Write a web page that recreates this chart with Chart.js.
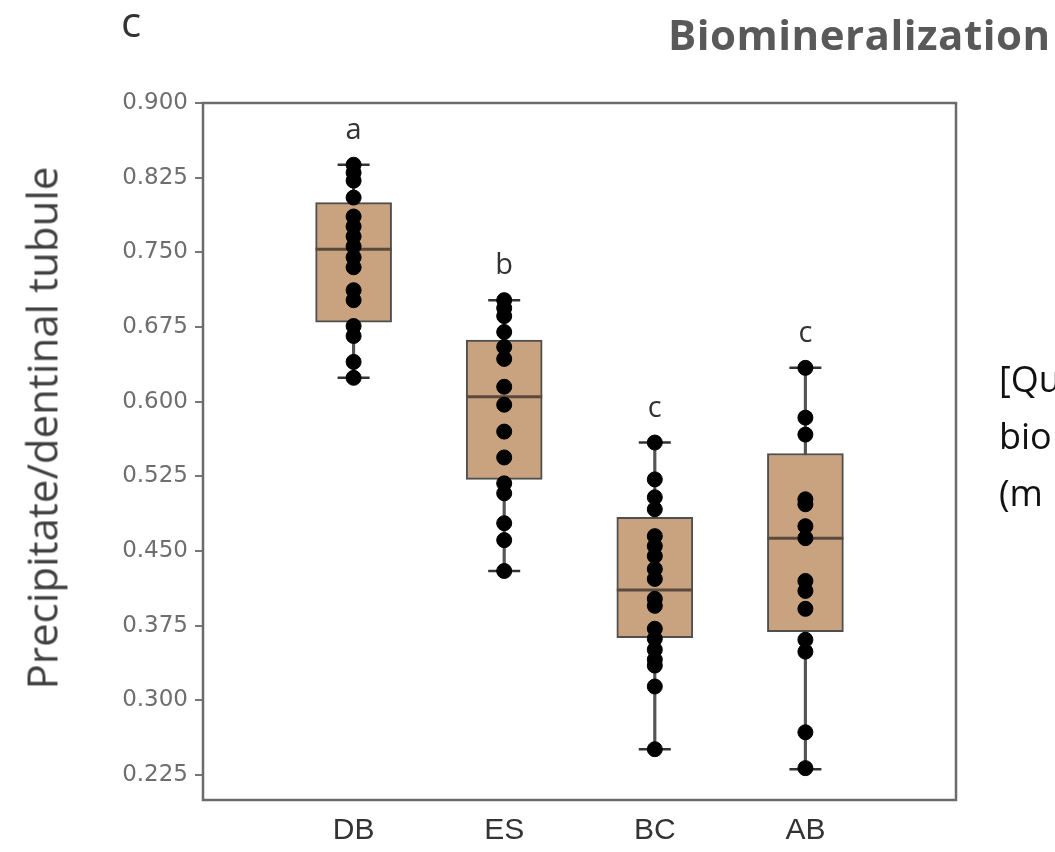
<!DOCTYPE html>
<html>
<head>
<meta charset="utf-8">
<script src="https://cdn.jsdelivr.net/npm/chart.js@4"></script>
<style>
  body { margin: 0; background: #fff; overflow: hidden; }
  #wrap { position: relative; width: 1055px; height: 852px; overflow: hidden; }
  #chart { position: absolute; left: 0; top: 0; }
  .txt { position: absolute; white-space: nowrap; font-family: "Open Sans", sans-serif; }
  #panel { left: 121px; top: -8px; font-size: 42px; color: #333; }
  #head { left: 668px; top: 5px; font-size: 42px; font-weight: bold; letter-spacing: 0.5px; color: #595959; }
  #side { left: 999px; top: 350px; font-size: 36px; line-height: 57px; color: #111; }
  #ytitle { left: 41px; top: 428px; font-size: 42px; color: #404040;
            transform: translate(-50%, -50%) rotate(-90deg); }
</style>
</head>
<body>
<div id="wrap">
  <canvas id="chart" width="1055" height="852"></canvas>
  <div class="txt" id="panel">c</div>
  <div class="txt" id="head">Biomineralization</div>
  <div class="txt" id="side">[Qu<br>bio<br>(m</div>
  <div class="txt" id="ytitle">Precipitate/dentinal tubule</div>
</div>
<script>
// groups and summary values
const categories = ['DB', 'ES', 'BC', 'AB'];
const letters = ['a', 'b', 'c', 'c'];
const q1 = [0.680, 0.522, 0.363, 0.369];
const median = [0.753, 0.605, 0.411, 0.463];
const q3 = [0.800, 0.662, 0.484, 0.548];
const whiskerLow = [0.624, 0.430, 0.251, 0.231];
const whiskerHigh = [0.838, 0.702, 0.559, 0.634];
const yTicks = [0.225, 0.300, 0.375, 0.450, 0.525, 0.600, 0.675, 0.750, 0.825, 0.900];

// individual observations
const dbPoints = [0.838, 0.830, 0.822, 0.805, 0.786, 0.776, 0.766, 0.756, 0.745, 0.735, 0.712, 0.702, 0.676, 0.666, 0.640, 0.624];
const esPoints = [0.702, 0.694, 0.686, 0.670, 0.655, 0.643, 0.615, 0.597, 0.570, 0.544, 0.518, 0.508, 0.478, 0.461, 0.430];
const bcPoints = [0.559, 0.522, 0.504, 0.492, 0.465, 0.455, 0.445, 0.432, 0.422, 0.402, 0.395, 0.372, 0.362, 0.351, 0.341, 0.335, 0.314, 0.251];
const abPoints = [0.634, 0.584, 0.567, 0.502, 0.497, 0.475, 0.463, 0.420, 0.410, 0.392, 0.361, 0.349, 0.268, 0.232];
const allPoints = [dbPoints, esPoints, bcPoints, abPoints];

const xs = categories.map((c, i) => i + 1);

// frame round the plot area + significance letters
const framePlugin = {
  id: 'frame',
  afterDatasetsDraw(chart) {
    const {ctx, chartArea: a, scales} = chart;
    ctx.save();
    ctx.strokeStyle = '#6b6b6b';
    ctx.lineWidth = 2.5;
    ctx.strokeRect(a.left, a.top, a.right - a.left, a.bottom - a.top);
    ctx.fillStyle = '#333';
    ctx.font = '29px "Open Sans"';
    ctx.textAlign = 'center';
    ctx.textBaseline = 'alphabetic';
    letters.forEach((l, i) => {
      ctx.fillText(l, scales.x.getPixelForValue(xs[i]), scales.y.getPixelForValue(whiskerHigh[i]) - 26);
    });
    ctx.restore();
  }
};

const ctx = document.getElementById('chart').getContext('2d');
const chart = new Chart(ctx, {
  type: 'bar',
  data: {
    datasets: [
      {
        type: 'scatter',
        label: 'points',
        data: allPoints.flatMap((g, i) => g.map(v => ({x: xs[i], y: v}))),
        backgroundColor: '#000',
        borderColor: '#000',
        pointRadius: 7.5,
        order: 0
      },
      {
        type: 'scatter',
        label: 'caps',
        data: xs.flatMap((x, i) => [{x: x, y: whiskerLow[i]}, {x: x, y: whiskerHigh[i]}]),
        pointStyle: 'line',
        pointRadius: 16,
        borderColor: '#333',
        borderWidth: 2.5,
        order: 1
      },
      {
        type: 'scatter',
        label: 'median',
        data: xs.map((x, i) => ({x: x, y: median[i]})),
        pointStyle: 'line',
        pointRadius: 38,
        borderColor: '#5a4a3c',
        borderWidth: 3,
        order: 2
      },
      {
        label: 'box',
        data: xs.map((x, i) => ({x: x, y: [q1[i], q3[i]]})),
        backgroundColor: '#c9a27f',
        borderColor: '#4f4f4f',
        borderWidth: 2,
        borderSkipped: false,
        barThickness: 76,
        grouped: false,
        order: 3
      },
      {
        label: 'whisker',
        data: xs.map((x, i) => ({x: x, y: [whiskerLow[i], whiskerHigh[i]]})),
        backgroundColor: '#555',
        borderWidth: 0,
        barThickness: 2.5,
        grouped: false,
        order: 4
      }
    ]
  },
  options: {
    responsive: false,
    animation: false,
    layout: {padding: {left: 0, top: 103, right: 99, bottom: 0}},
    plugins: {legend: {display: false}, tooltip: {enabled: false}},
    scales: {
      x: {
        type: 'linear',
        min: 0,
        max: 5,
        offset: false,
        afterBuildTicks: s => { s.ticks = xs.map(v => ({value: v})); },
        afterFit: s => { s.height = 52; },
        grid: {display: false, drawTicks: false},
        border: {display: false},
        ticks: {
          callback: v => categories[v - 1],
          font: {family: '"Liberation Sans"', size: 30},
          color: '#333',
          padding: 13,
          maxRotation: 0
        }
      },
      y: {
        min: 0.2,
        max: 0.9,
        afterBuildTicks: s => { s.ticks = yTicks.map(v => ({value: v})); },
        afterFit: s => { s.width = 203; },
        grid: {drawOnChartArea: false, drawTicks: true, tickLength: 8, color: '#777', lineWidth: 2},
        border: {display: false},
        ticks: {
          callback: v => v.toFixed(3),
          font: {family: '"DejaVu Sans"', size: 23},
          color: '#6e6e6e',
          padding: 7
        }
      }
    }
  },
  plugins: [framePlugin]
});
</script>
</body>
</html>
